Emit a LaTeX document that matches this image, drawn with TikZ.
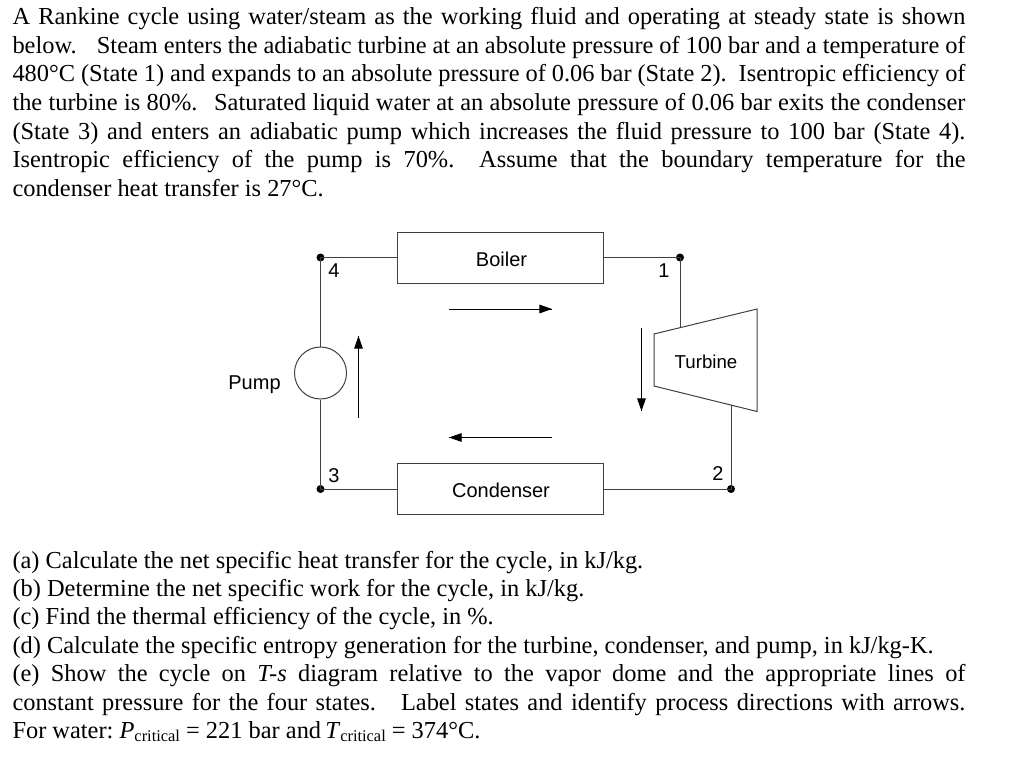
\documentclass[tikz,border=0pt]{standalone}
\usepackage{fontspec}
\setmainfont{Liberation Serif}
\newfontfamily\labelfont{Liberation Sans}
\usetikzlibrary{arrows.meta,decorations.markings}
\tikzset{flow/.style = {decoration={markings, mark=at position 1 with {\arrow{Triangle[length=9.5pt,width=6.5pt]}}}, postaction={decorate}},
         txt/.style = {anchor=base west, inner sep=0pt, font=\fontsize{18.3}{21}\selectfont},
         lbl/.style = {inner sep=0pt, font=\labelfont\fontsize{15}{17}\selectfont},
         box/.style = {draw=black!75, minimum width=154.5pt, minimum height=38.25pt, inner sep=0pt},
         pipe/.style = {draw=black!75},
         dot/.style = {circle, fill=black, inner sep=0pt, minimum size=6pt}}
\newcommand{\fline}[1]{\makebox[714.75pt][s]{#1}}
\newcommand{\lowtext}[1]{\raisebox{-0.3ex}{\fontsize{12.3}{14}\selectfont #1}}

\begin{document}
\begin{tikzpicture}[x=0.75pt, y=-0.75pt, line width=0.75pt]
\useasboundingbox (0,0) rectangle (1024,781);
% statement
\node [txt] (top1) at (12,25) {\fline{A Rankine cycle using water/steam as the working fluid and operating at steady state is shown}};
\node [txt] (top2) at (12,53.5) {\fline{below.\ \ \ \kern2pt Steam enters the adiabatic turbine at an absolute pressure of 100 bar and a temperature of}};
\node [txt] (top3) at (12,82) {\fline{480°C (State 1) and expands to an absolute pressure of 0.06 bar (State 2).\ \ Isentropic efficiency of}};
\node [txt] (top4) at (12,111) {\fline{the turbine is 80\%.\ \ \kern3pt Saturated liquid water at an absolute pressure of 0.06 bar exits the condenser}};
\node [txt] (top5) at (12,139.5) {\fline{(State 3) and enters an adiabatic pump which increases the fluid pressure to 100 bar (State 4).}};
\node [txt] (top6) at (12,168) {\fline{Isentropic efficiency of the pump is 70\%.\ \ Assume that the boundary temperature for the}};
\node [txt] (top7) at (12,196.5) {condenser heat transfer is 27°C.};
% cycle
\node [box] (boiler) at (500.3,257.5) {};
\node [box] (condenser) at (500.3,489) {};
\node [draw=black!75, circle, minimum size=39pt, inner sep=0pt] (pump) at (320.5,373) {};
\node [dot] (s1) at (680,257.5) {};
\node [dot] (s2) at (731,489) {};
\node [dot] (s3) at (320.5,489) {};
\node [dot] (s4) at (320.5,257.5) {};
\coordinate (t1) at (654,334);
\coordinate (t2) at (757,309);
\coordinate (t3) at (757,411.5);
\coordinate (t4) at (654,386);
\coordinate (tin) at (680,328);
\coordinate (tout) at (731,405);
\draw [pipe] (t1) -- (t2) -- (t3) -- (t4) -- cycle;
\draw [pipe] (boiler.east) -- (s1.center) -- (tin);
\draw [pipe] (tout) -- (s2.center) -- (condenser.east);
\draw [pipe] (condenser.west) -- (s3.center) -- (pump.south);
\draw [pipe] (pump.north) -- (s4.center) -- (boiler.west);
\node [lbl] (boilerlbl) at (501.5,259) {Boiler};
\node [lbl] (condenserlbl) at (501,490) {Condenser};
\node [lbl] (pumplbl) at (254.5,385) {Pump};
\node [lbl, font=\labelfont\fontsize{14}{16}\selectfont] (turbinelbl) at (706,361.5) {Turbine};
\node [lbl] (n1) at (664,271) {1};
\node [lbl] (n2) at (718,474) {2};
\node [lbl] (n3) at (334,476) {3};
\node [lbl] (n4) at (334,271) {4};
% flow arrows
\coordinate (a1) at (449,309);
\coordinate (a2) at (552,309);
\coordinate (b1) at (641.5,328);
\coordinate (b2) at (641.5,411);
\coordinate (c1) at (552,437.5);
\coordinate (c2) at (449,437.5);
\coordinate (d1) at (358.5,418);
\coordinate (d2) at (358.5,336);
\draw [flow] (a1) -- (a2);
\draw [flow] (b1) -- (b2);
\draw [flow] (c1) -- (c2);
\draw [flow] (d1) -- (d2);
% questions
\node [txt] (q1) at (12,568) {(a) Calculate the net specific heat transfer for the cycle, in kJ/kg.};
\node [txt] (q2) at (12,596.5) {(b) Determine the net specific work for the cycle, in kJ/kg.};
\node [txt] (q3) at (12,624.5) {(c) Find the thermal efficiency of the cycle, in \%.};
\node [txt] (q4) at (12,653) {(d) Calculate the specific entropy generation for the turbine, condenser, and pump, in kJ/kg-K.};
\node [txt] (q5) at (12,681.5) {\fline{(e) Show the cycle on \textit{T-s} diagram relative to the vapor dome and the appropriate lines of}};
\node [txt] (q6) at (12,710) {\fline{constant pressure for the four states.\ \ \ Label states and identify process directions with arrows.}};
\node [txt] (q7) at (12,738) {For water: \kern-1.5pt\textit{P}\lowtext{critical} = 221 bar and \kern-1.5pt\textit{T}\lowtext{critical} = 374°C.};
\end{tikzpicture}
\end{document}
